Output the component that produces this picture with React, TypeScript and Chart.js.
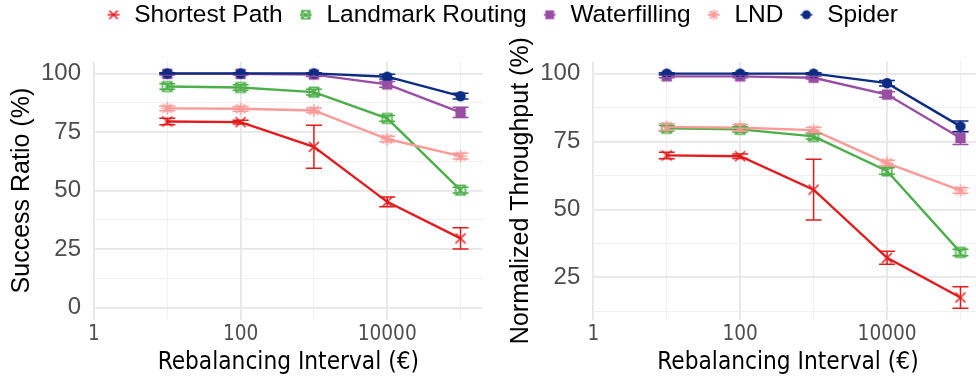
import React, { useEffect, useRef } from 'react';
import { Chart, registerables } from 'chart.js';

Chart.register(...registerables);

// ---------- data ----------
const intervals = [10, 100, 1000, 10000, 100000];
const seriesNames = ['Shortest Path', 'Landmark Routing', 'Waterfilling', 'LND', 'Spider'];
const seriesColors = ['#e41a1c', '#4daf4a', '#984ea3', '#fb9a99', '#0c2b82'];

// Success Ratio (%)
const successShortest = [79.5, 79.2, 68.7, 45.2, 29.6];
const successLandmark = [94.4, 94.0, 92.0, 80.8, 50.2];
const successWaterfilling = [99.8, 99.8, 99.5, 95.3, 83.4];
const successLND = [85.1, 84.9, 84.2, 72.0, 64.7];
const successSpider = [100, 100, 100, 98.6, 90.3];

const successShortestErr = [1.4, 0.8, 9.2, 2.1, 4.5];
const successLandmarkErr = [1.2, 1.2, 1.2, 1.2, 1.2];
const successWaterfillingErr = [0.5, 0.5, 0.8, 1.2, 2.2];
const successLNDErr = [1.0, 1.0, 1.0, 1.2, 1.2];
const successSpiderErr = [0.3, 0.3, 0.3, 1.0, 1.2];

// Normalized Throughput (%)
const tputShortest = [69.9, 69.6, 57.3, 32.2, 17.6];
const tputLandmark = [79.9, 79.5, 76.9, 64.2, 34.2];
const tputWaterfilling = [99.0, 99.0, 98.5, 92.3, 76.3];
const tputLND = [80.4, 80.1, 79.2, 67.1, 57.0];
const tputSpider = [100, 100, 100, 96.5, 80.6];

const tputShortestErr = [1.2, 0.8, 11.2, 2.4, 4.0];
const tputLandmarkErr = [1.0, 1.0, 1.0, 1.2, 1.2];
const tputWaterfillingErr = [0.5, 0.5, 0.5, 1.0, 2.4];
const tputLNDErr = [1.2, 1.2, 1.0, 1.0, 1.0];
const tputSpiderErr = [0.3, 0.3, 0.3, 1.0, 2.0];

const xTickValues = [1, 10, 100, 1000, 10000, 100000];
const xTickLabels = ['1', '', '100', '', '10000', ''];
const successTicks = [0, 12.5, 25, 37.5, 50, 62.5, 75, 87.5, 100];
const tputTicks = [12.5, 25, 37.5, 50, 62.5, 75, 87.5, 100];

const sansFont = "'Liberation Sans', Arial, sans-serif";
const condFont = "'DejaVu Sans Condensed', 'DejaVu Sans', sans-serif";

// ---------- markers ----------
function makeCanvas(w: number, h: number, draw: (c: CanvasRenderingContext2D) => void) {
  const cv = document.createElement('canvas');
  cv.width = w;
  cv.height = h;
  const c = cv.getContext('2d')!;
  draw(c);
  return cv;
}

function drawMarker(c: CanvasRenderingContext2D, idx: number, cx: number, cy: number, color: string, s: number) {
  c.strokeStyle = color;
  c.fillStyle = color;
  c.lineWidth = 1.5;
  if (idx === 0) {
    const r = 5 * s;
    c.beginPath();
    c.moveTo(cx - r, cy - r); c.lineTo(cx + r, cy + r);
    c.moveTo(cx + r, cy - r); c.lineTo(cx - r, cy + r);
    c.stroke();
  } else if (idx === 1) {
    const r = 4.8 * s;
    c.beginPath();
    c.rect(cx - r, cy - r, 2 * r, 2 * r);
    c.moveTo(cx - r, cy - r); c.lineTo(cx + r, cy + r);
    c.moveTo(cx + r, cy - r); c.lineTo(cx - r, cy + r);
    c.stroke();
  } else if (idx === 2) {
    const r = 5.2 * s;
    c.fillRect(cx - r, cy - r, 2 * r, 2 * r);
  } else if (idx === 3) {
    const r = 6.3 * s;
    const q = r * 0.72;
    c.beginPath();
    c.moveTo(cx - r, cy); c.lineTo(cx + r, cy);
    c.moveTo(cx, cy - r); c.lineTo(cx, cy + r);
    c.moveTo(cx - q, cy - q); c.lineTo(cx + q, cy + q);
    c.moveTo(cx + q, cy - q); c.lineTo(cx - q, cy + q);
    c.stroke();
  } else {
    c.beginPath();
    c.arc(cx, cy, 5.2 * s, 0, Math.PI * 2);
    c.fill();
  }
}

function pointImage(idx: number) {
  return makeCanvas(16, 16, (c) => drawMarker(c, idx, 8, 8, seriesColors[idx], 1));
}

function legendImage(idx: number) {
  return makeCanvas(16, 14, (c) => {
    c.strokeStyle = seriesColors[idx];
    c.lineWidth = 1.5;
    c.beginPath();
    c.moveTo(2, 7); c.lineTo(14, 7);
    c.stroke();
    drawMarker(c, idx, 8, 7, seriesColors[idx], 0.85);
  });
}

// ---------- error bars ----------
const errorBarPlugin = {
  id: 'errorBars',
  afterDatasetsDraw(chart: any) {
    const ctx = chart.ctx;
    const xs = chart.scales.x;
    const ys = chart.scales.y;
    const sets = chart.data.datasets;
    for (let d = sets.length - 1; d >= 0; d--) {
      const ds: any = sets[d];
      ctx.save();
      ctx.strokeStyle = ds.borderColor;
      ctx.lineWidth = 1.5;
      ds.data.forEach((p: any, j: number) => {
        const e = ds.errors[j];
        const px = xs.getPixelForValue(p.x);
        const y1 = ys.getPixelForValue(p.y - e);
        const y2 = ys.getPixelForValue(p.y + e);
        ctx.beginPath();
        ctx.moveTo(px, y1); ctx.lineTo(px, y2);
        ctx.moveTo(px - 8, y1); ctx.lineTo(px + 8, y1);
        ctx.moveTo(px - 8, y2); ctx.lineTo(px + 8, y2);
        ctx.stroke();
      });
      ctx.restore();
    }
  },
};

const isMajorX = (v: number) => v === 1 || v === 100 || v === 10000;
const isMajorY = (v: number) => Math.abs(v % 25) < 1e-6;

function panelConfig(p: {
  series: number[][];
  errors: number[][];
  yMin: number;
  yMax: number;
  yTicks: number[];
  yTitle: string;
  yAxisWidth: number;
  yTitlePad: number;
  padRight: number;
}) {
  const order = [4, 3, 2, 1, 0];
  const datasets = order.map((i) => ({
    label: seriesNames[i],
    data: intervals.map((x, j) => ({ x, y: p.series[i][j] })),
    errors: p.errors[i],
    borderColor: seriesColors[i],
    backgroundColor: seriesColors[i],
    borderWidth: 2.4,
    pointStyle: pointImage(i),
    pointRadius: 5,
    tension: 0,
    fill: false,
  }));
  return {
    type: 'line' as const,
    data: { datasets },
    plugins: [errorBarPlugin],
    options: {
      animation: false,
      responsive: false,
      events: [],
      layout: { padding: { top: 61.7, right: p.padRight, bottom: 0, left: 0 } },
      plugins: { legend: { display: false }, tooltip: { enabled: false } },
      scales: {
        x: {
          type: 'logarithmic',
          min: 1,
          max: 200000,
          afterBuildTicks: (s: any) => {
            s.ticks = xTickValues.map((v) => ({ value: v }));
          },
          afterFit: (s: any) => {
            s.height = 65.5;
          },
          ticks: {
            autoSkip: false,
            maxRotation: 0,
            padding: 3,
            color: '#4d4d4d',
            font: { family: condFont, size: 20.6 },
            callback: (v: any) => {
              const k = xTickValues.indexOf(Number(v));
              return k >= 0 ? xTickLabels[k] : '';
            },
          },
          grid: {
            drawTicks: false,
            color: (c: any) => (c.tick && isMajorX(c.tick.value) ? '#e6e6e6' : '#efefef'),
            lineWidth: (c: any) => (c.tick && isMajorX(c.tick.value) ? 1.8 : 1),
          },
          border: { display: false },
          title: {
            display: true,
            text: 'Rebalancing Interval (€)',
            color: '#000',
            font: { family: condFont, size: 24.2 },
            padding: { top: 0, bottom: 7.5 },
          },
        },
        y: {
          type: 'linear',
          min: p.yMin,
          max: p.yMax,
          afterBuildTicks: (s: any) => {
            s.ticks = p.yTicks.map((v) => ({ value: v }));
          },
          afterFit: (s: any) => {
            s.width = p.yAxisWidth;
          },
          ticks: {
            padding: 13,
            color: '#4d4d4d',
            font: { family: sansFont, size: 24 },
            callback: (v: any) => (isMajorY(Number(v)) ? String(v) : ''),
          },
          grid: {
            drawTicks: false,
            color: (c: any) => (c.tick && isMajorY(c.tick.value) ? '#e6e6e6' : '#efefef'),
            lineWidth: (c: any) => (c.tick && isMajorY(c.tick.value) ? 1.8 : 1),
          },
          border: { display: false },
          title: {
            display: true,
            text: p.yTitle,
            color: '#000',
            font: { family: sansFont, size: 25 },
            padding: { top: p.yTitlePad, bottom: 0 },
          },
        },
      },
    },
  };
}

export default function App() {
  const legendRef = useRef<HTMLCanvasElement>(null);
  const leftRef = useRef<HTMLCanvasElement>(null);
  const rightRef = useRef<HTMLCanvasElement>(null);

  useEffect(() => {
    const legendImgs = seriesNames.map((_, i) => legendImage(i));
    const legendChart = new Chart(legendRef.current!, {
      type: 'line',
      data: {
        datasets: seriesNames.map((n, i) => ({ label: n, data: [], borderColor: seriesColors[i] })),
      },
      options: {
        animation: false,
        responsive: false,
        events: [],
        layout: { padding: 0 },
        scales: { x: { display: false }, y: { display: false } },
        plugins: {
          tooltip: { enabled: false },
          legend: {
            display: true,
            position: 'top',
            align: 'center',
            maxHeight: 60,
            labels: {
              usePointStyle: true,
              boxWidth: 17,
              boxHeight: 10,
              padding: 14.5,
              color: '#000',
              font: { family: sansFont, size: 24.5 },
              generateLabels: () =>
                seriesNames.map((n, i) => ({
                  text: n,
                  pointStyle: legendImgs[i] as any,
                  fillStyle: seriesColors[i],
                  strokeStyle: seriesColors[i],
                  lineWidth: 0,
                  hidden: false,
                  datasetIndex: i,
                  fontColor: '#000',
                })),
            },
          },
        },
      } as any,
    });

    const left = new Chart(
      leftRef.current!,
      panelConfig({
        series: [successShortest, successLandmark, successWaterfilling, successLND, successSpider],
        errors: [successShortestErr, successLandmarkErr, successWaterfillingErr, successLNDErr, successSpiderErr],
        yMin: -5,
        yMax: 105,
        yTicks: successTicks,
        yTitle: 'Success Ratio (%)',
        yAxisWidth: 94,
        yTitlePad: 7.5,
        padRight: 3.7,
      }) as any
    );

    const right = new Chart(
      rightRef.current!,
      panelConfig({
        series: [tputShortest, tputLandmark, tputWaterfilling, tputLND, tputSpider],
        errors: [tputShortestErr, tputLandmarkErr, tputWaterfillingErr, tputLNDErr, tputSpiderErr],
        yMin: 9.5,
        yMax: 104.4,
        yTicks: tputTicks,
        yTitle: 'Normalized Throughput (%)',
        yAxisWidth: 103.3,
        yTitlePad: 16.5,
        padRight: 4.4,
      }) as any
    );

    return () => {
      legendChart.destroy();
      left.destroy();
      right.destroy();
    };
  }, []);

  return (
    <div
      style={{
        position: 'absolute',
        left: 0,
        top: 0,
        width: 976,
        height: 385,
        overflow: 'hidden',
        background: '#ffffff',
      }}
    >
      <canvas ref={leftRef} width={490} height={385} style={{ position: 'absolute', left: 0, top: 0 }} />
      <canvas ref={rightRef} width={500} height={385} style={{ position: 'absolute', left: 490, top: 0 }} />
      <canvas ref={legendRef} width={1007} height={160} style={{ position: 'absolute', left: -2, top: -12 }} />
    </div>
  );
}
